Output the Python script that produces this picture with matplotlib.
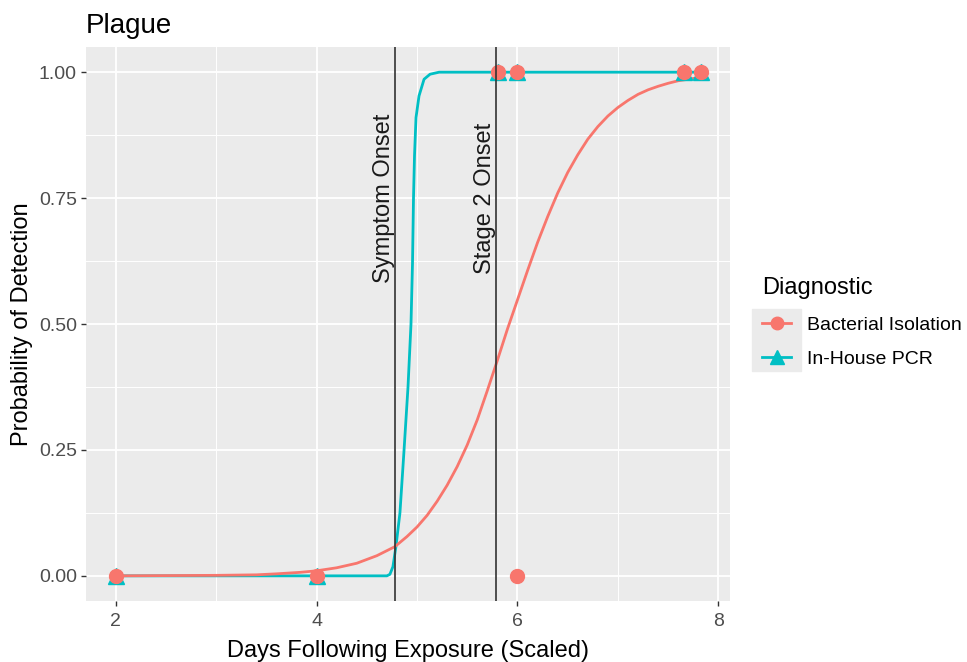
import matplotlib
matplotlib.use("Agg")
import matplotlib.pyplot as plt
from matplotlib.lines import Line2D
from matplotlib.patches import Rectangle
from matplotlib.ticker import MultipleLocator

plt.rcParams["font.family"] = ["Liberation Sans", "DejaVu Sans"]

# observed detections (1 = detected, 0 = not detected)
bact_x = [2, 4, 5.81, 6, 6, 7.66, 7.83]
bact_y = [0, 0, 1, 1, 0, 1, 1]
pcr_x = [2, 4, 5.81, 6, 7.66, 7.83]
pcr_y = [0, 0, 1, 1, 1, 1]

# fitted probability curves
bact_fit_x = [2.0, 3.0, 3.4, 3.6, 3.84, 4.0, 4.2, 4.4, 4.6, 4.78, 4.9, 5.0, 5.1,
              5.2, 5.3, 5.4, 5.5, 5.6, 5.7, 5.8, 5.9, 6.0, 6.1, 6.2, 6.3, 6.4,
              6.5, 6.6, 6.7, 6.8, 6.9, 7.0, 7.1, 7.2, 7.3, 7.4, 7.5, 7.6, 7.7,
              7.83]
bact_fit_y = [0.0, 0.001, 0.002, 0.004, 0.007, 0.010, 0.016, 0.025, 0.040, 0.058,
              0.078, 0.097, 0.120, 0.148, 0.180, 0.217, 0.260, 0.310, 0.368,
              0.428, 0.490, 0.548, 0.606, 0.662, 0.713, 0.760, 0.801, 0.836,
              0.867, 0.892, 0.913, 0.930, 0.944, 0.956, 0.965, 0.972, 0.978,
              0.983, 0.986, 0.990]
pcr_fit_x = [2.0, 4.7, 4.73, 4.76, 4.79, 4.83, 4.87, 4.91, 4.94, 4.955, 4.965,
             4.975, 4.99, 5.02, 5.07, 5.13, 5.22, 7.83]
pcr_fit_y = [0.0, 0.0, 0.003, 0.018, 0.058, 0.125, 0.247, 0.374, 0.5, 0.62, 0.75,
             0.834, 0.91, 0.953, 0.986, 0.996, 1.0, 1.0]

onset_x = [4.78, 5.79]
onset_labels = ["Symptom Onset", "Stage 2 Onset"]

red = "#F8766D"
teal = "#00BFC4"

fig = plt.figure(figsize=(9.67, 6.62), dpi=100)
ax = fig.add_axes([0.0889, 0.0921, 0.666, 0.8369])
ax.set_facecolor("#EBEBEB")
for s in ax.spines.values():
    s.set_visible(False)

ax.plot(pcr_fit_x, pcr_fit_y, color=teal, lw=2, zorder=3)
ax.plot(bact_fit_x, bact_fit_y, color=red, lw=2, zorder=3.1)
ax.plot(pcr_x, pcr_y, ls="none", marker="^", ms=11, color=teal, zorder=4)
ax.plot(bact_x, bact_y, ls="none", marker="o", ms=10, color=red, zorder=4.1)

for x, lab in zip(onset_x, onset_labels):
    ax.axvline(x, color="#333333", lw=1.2, zorder=5)
    ax.text(x, 0.75, lab, rotation=90, ha="right", va="center",
            fontsize=17, color="#1a1a1a", zorder=6)

ax.set_xlim(1.705, 8.115)
ax.set_ylim(-0.05, 1.05)
ax.set_xticks([2, 4, 6, 8])
ax.set_yticks([0, 0.25, 0.5, 0.75, 1.0])
ax.set_yticklabels(["0.00", "0.25", "0.50", "0.75", "1.00"])
ax.xaxis.set_minor_locator(MultipleLocator(1))
ax.yaxis.set_minor_locator(MultipleLocator(0.125))
ax.grid(which="major", color="white", lw=1.3)
ax.grid(which="minor", color="white", lw=0.7)
ax.set_axisbelow(True)
ax.tick_params(which="major", length=3.5, width=1, color="#333333",
               labelsize=14, labelcolor="#4D4D4D")
ax.tick_params(axis="x", pad=5)
ax.tick_params(axis="y", pad=3)
ax.tick_params(which="minor", length=0)

ax.set_xlabel("Days Following Exposure (Scaled)", fontsize=17, labelpad=7)
ax.set_ylabel("Probability of Detection", fontsize=17, labelpad=4)
ax.set_title("Plague", loc="left", fontsize=20, pad=10)

handles = [
    Line2D([], [], color=red, lw=2, marker="o", ms=9),
    Line2D([], [], color=teal, lw=2, marker="^", ms=10),
]
leg = fig.legend(handles, ["Bacterial Isolation", "In-House PCR"],
                 title="Diagnostic", loc="upper left",
                 bbox_to_anchor=(0.778, 0.596), frameon=False, fontsize=14,
                 title_fontsize=17, alignment="left", borderpad=0,
                 handlelength=1.5, handletextpad=0.8, labelspacing=0.86)

# grey key background behind the legend symbols
fig.canvas.draw()
r = fig.canvas.get_renderer()
boxes = [h.get_window_extent(r) for h in leg.legend_handles]
x0 = min(b.x0 for b in boxes) - 3
x1 = max(b.x1 for b in boxes) + 3
y0 = min(b.y0 for b in boxes) - 7
y1 = max(b.y1 for b in boxes) + 7
W, H = fig.bbox.width, fig.bbox.height
fig.patches.append(Rectangle((x0 / W, y0 / H), (x1 - x0) / W, (y1 - y0) / H,
                             transform=fig.transFigure, color="#EBEBEB",
                             zorder=1, figure=fig))

fig.savefig("out.png", dpi=100)
